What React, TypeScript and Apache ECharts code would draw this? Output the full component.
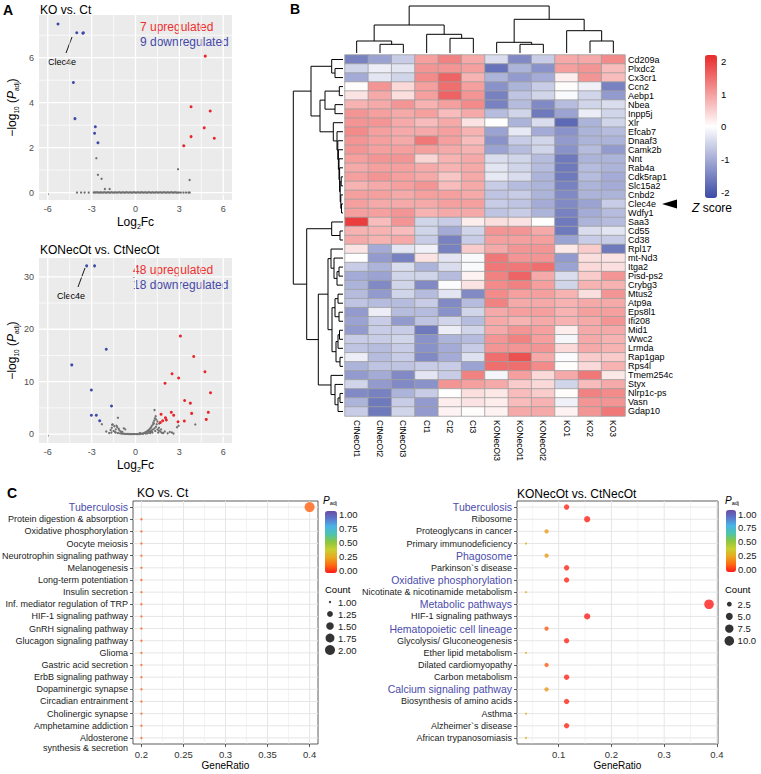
import React, { useEffect, useRef } from 'react';
import * as echarts from 'echarts';

const FONT = '"Liberation Sans", Arial, Helvetica, sans-serif';

// ---------------- Panel A : volcano plots ----------------
const volcXTicks = [-6, -3, 0, 3, 6];
const volcXMinor = [-4.5, -1.5, 1.5, 4.5];
const koYTicks = [0, 2, 4, 6];
const koYMinor = [1, 3, 5, 7];
const necYTicks = [0, 10, 20, 30];
const necYMinor = [5, 15, 25];

const koDown = [[-5.3, 7.5], [-4.02, 7.11], [-3.57, 7.11], [-3.6, 7.09], [-4.25, 4.9], [-4.14, 3.29], [-2.75, 2.93], [-2.8, 2.64], [-2.57, 2.22]];
const koUp = [[4.77, 6.07], [3.8, 3.82], [5.11, 3.63], [4.7, 2.88], [3.8, 2.49], [5.39, 2.42], [3.3, 2.08]];
const koOther = [
  [-2.68, 1.53], [-2.57, 0.79], [-2.32, 0.61], [-2.09, 0.16], [-1.77, 0.16], [2.91, 1.04], [3.7, 0.56],
  [-4.0, 0], [-3.72, 0], [-3.48, 0], [-3.2, 0], [-2.86, 0], [-2.79, 0.01], [-2.71, 0], [-2.63, 0.02], [-2.55, 0],
  [-2.46, 0], [-2.39, 0.01], [-2.31, 0], [-2.22, 0], [-2.14, 0.02], [-2.05, 0], [-1.97, 0], [-1.88, 0.01],
  [-1.8, 0], [-1.71, 0], [-1.63, 0.02], [-1.54, 0], [-1.46, 0], [-1.37, 0.01], [-1.29, 0], [-1.2, 0],
  [-1.12, 0.02], [-1.03, 0], [-0.95, 0], [-0.86, 0.01], [-0.78, 0], [-0.69, 0], [-0.61, 0.02], [-0.52, 0],
  [-0.44, 0], [-0.35, 0.01], [-0.27, 0], [-0.18, 0], [-0.1, 0.02], [-0.01, 0], [0.07, 0], [0.16, 0.01],
  [0.24, 0], [0.33, 0], [0.41, 0.02], [0.5, 0], [0.58, 0], [0.67, 0.01], [0.75, 0], [0.84, 0], [0.92, 0.02],
  [1.01, 0], [1.09, 0], [1.18, 0.01], [1.26, 0], [1.35, 0], [1.43, 0.02], [1.52, 0], [1.6, 0], [1.69, 0.01],
  [1.77, 0], [1.86, 0], [1.94, 0.02], [2.03, 0], [2.11, 0], [2.2, 0.01], [2.28, 0], [2.37, 0], [2.45, 0.02],
  [2.54, 0], [2.62, 0], [2.71, 0.01], [2.79, 0], [2.88, 0], [2.97, 0], [3.1, 0], [3.28, 0], [3.45, 0], [3.62, 0], [3.71, 0]
];

const necDown = [[-3.34, 32.1], [-2.8, 32.1], [-4.36, 13.2], [-2.0, 16.2], [-3.02, 8.4], [-1.64, 5.35], [-3.02, 3.6], [-2.68, 3.6], [-2.45, 2.55]];
const necUp = [
  [3.07, 18.7], [3.98, 14.8], [2.5, 11.5], [4.75, 11.9], [2.95, 10.7], [2.02, 9.7], [5.13, 7.9], [3.36, 6.4],
  [3.75, 5.9], [1.75, 3.8], [2.45, 4.15], [2.61, 3.6], [3.84, 3.95], [4.98, 4.15], [2.05, 3.1], [2.11, 2.7],
  [1.86, 2.55], [1.7, 2.2], [2.91, 2.35], [3.34, 2.5], [4.84, 2.8]
];
const necOther = [
  [-2.3, 1.9], [-1.6, 1.8], [-1.55, 1.85], [-1.45, 1.5], [-1.62, 1.2], [-1.35, 0.9], [-1.25, 1.3], [-1.5, 0.6],
  [-1.7, 0.8], [-1.2, 3.1], [-1.1, 0.7], [-1.0, 0.5], [-0.9, 0.4], [-1.4, 0.4], [-1.65, 0.3], [-1.8, 0.2],
  [-2.0, 0.5], [-1.15, 1.0], [-1.3, 1.6], [-0.8, 1.1], [-0.7, 0.9], [-1.35, 0.3], [-1.2, 0.2], [-1.05, 0.15],
  [-0.95, 0.1], [-0.85, 0.08], [-0.75, 0.05], [-0.65, 0.04], [-0.55, 0.03], [-0.45, 0.02], [-0.35, 0.01],
  [-0.25, 0.01], [-0.15, 0], [-0.05, 0], [0.05, 0], [0.15, 0.01], [0.25, 0.02], [0.35, 0.05], [0.45, 0.1],
  [0.55, 0.15], [0.62, 0.25], [0.7, 0.35], [0.78, 0.5], [0.85, 0.65], [0.92, 0.8], [0.98, 1.0], [1.05, 1.2],
  [1.1, 1.5], [1.18, 1.8], [1.22, 2.2], [1.28, 2.6], [1.33, 3.0], [1.38, 3.4], [1.3, 4.6], [0.9, 0.3], [1.0, 0.5],
  [1.1, 0.7], [1.2, 0.9], [1.3, 1.1], [1.4, 1.4], [1.45, 1.9], [1.5, 2.4], [1.0, 0.2], [0.8, 0.15], [0.7, 0.1],
  [1.15, 0.3], [1.35, 0.6], [1.5, 0.9], [1.6, 1.2], [1.55, 0.3], [1.7, 0.5], [1.8, 0.25], [1.9, 0.2], [2.0, 0.5],
  [2.2, 0.15], [2.35, 0.4], [2.84, 1.3], [4.09, 1.85], [2.6, 0.1], [0.5, 0.05], [0.3, 0.2], [1.25, 2.0],
  [1.42, 2.8], [1.12, 0.45], [0.95, 0.55], [1.6, 0.7], [1.75, 0.9], [1.62, 2.0], [2.95, 1.6], [2.5, 0.3]
];

// ---------------- Panel B : heatmap ----------------
const heatCols = ['CtNecOt1', 'CtNecOt2', 'CtNecOt3', 'Ct1', 'Ct2', 'Ct3', 'KONecOt3', 'KONecOt1', 'KONecOt2', 'KO1', 'KO2', 'KO3'];
const heatRows = ['Cd209a', 'Plxdc2', 'Cx3cr1', 'Ccn2', 'Aebp1', 'Nbea', 'Inpp5j', 'Xlr', 'Efcab7', 'Dnaaf3', 'Camk2b', 'Nnt',
  'Rab4a', 'Cdk5rap1', 'Slc15a2', 'Cnbd2', 'Clec4e', 'Wdfy1', 'Saa3', 'Cd55', 'Cd38', 'Rpl17', 'mt-Nd3', 'Itga2',
  'Pisd-ps2', 'Crybg3', 'Mtus2', 'Atp9a', 'Eps8l1', 'Ifi208', 'Mid1', 'Wwc2', 'Lrmda', 'Rap1gap', 'Rps4l', 'Tmem254c',
  'Styx', 'Nlrp1c-ps', 'Vasn', 'Gdap10'];
const zScores = [
  [-1.5, -1.1, -0.6, 1.0, 1.3, 0.9, -0.4, -1.4, -0.6, 0.9, 0.9, 1.2],
  [-0.5, -0.2, -0.3, 1.1, 1.1, 1.0, -1.7, -0.9, -1.3, 1.0, 1.1, 0.7],
  [-1.0, -0.3, -0.5, 1.2, 1.6, 0.8, -0.9, -1.2, -1.0, 0.2, 1.1, 0.7],
  [0.05, 1.1, 0.4, 1.0, 1.5, 1.0, -1.3, -0.9, -0.6, 0.05, -0.15, -1.5],
  [0.3, 0.9, 0.35, 1.0, 1.6, 1.1, -1.5, -0.7, -0.5, -0.05, -0.5, -1.2],
  [0.8, 0.9, 1.1, 0.8, 1.0, 1.2, -1.5, -0.8, -1.4, -0.8, -0.5, -0.4],
  [1.1, 1.0, 0.9, 1.0, 0.7, 0.9, -0.8, -0.5, -1.6, -1.1, -0.2, -0.5],
  [1.1, 1.1, 0.9, 0.7, 0.9, 0.3, 0.03, -0.9, -0.4, -1.8, -0.9, -0.5],
  [1.2, 1.0, 0.9, 0.9, 1.0, 0.8, -1.1, -0.25, -1.0, -1.3, -0.9, -0.8],
  [1.1, 1.0, 0.9, 1.4, 1.0, 0.7, -1.3, -0.6, -0.5, -1.2, -0.9, -0.9],
  [1.1, 1.0, 1.0, 1.0, 0.9, 0.8, -1.1, -0.8, -0.5, -1.3, -0.8, -1.2],
  [1.0, 1.1, 1.1, 0.45, 0.8, 0.9, -0.4, -0.5, -0.8, -1.6, -0.9, -0.9],
  [0.9, 1.0, 1.0, 0.9, 0.8, 0.9, -0.3, -0.5, -0.8, -1.6, -0.8, -0.9],
  [1.0, 1.1, 1.0, 0.9, 0.6, 0.9, -0.25, -0.4, -0.9, -1.6, -0.8, -1.0],
  [0.8, 0.9, 1.0, 1.1, 0.7, 0.9, -0.6, -0.8, -0.9, -1.5, -0.9, -1.0],
  [1.0, 1.0, 0.9, 1.0, 1.0, 0.9, -0.7, -0.6, -0.9, -1.4, -0.9, -0.9],
  [1.0, 0.9, 0.9, 0.9, 1.0, 1.0, -0.6, -0.7, -1.0, -1.4, -1.1, -0.6],
  [1.0, 1.0, 1.1, 0.8, 0.9, 0.9, -0.7, -0.6, -0.9, -1.5, -1.0, -0.8],
  [2.0, 0.7, 1.1, -0.5, -0.6, 0.2, 0.35, 0.3, 0.03, -1.6, -0.9, -0.8],
  [0.8, 0.8, 0.7, -0.5, -1.0, -0.5, 1.1, 1.1, 0.9, -1.6, -0.4, -0.3],
  [0.9, 0.8, 0.9, -0.6, -1.5, -0.6, 1.0, 1.0, 1.0, -1.1, -0.6, -0.6],
  [0.3, -1.0, -0.3, -0.15, -1.5, 0.55, 0.9, 1.1, 1.1, 0.25, 0.55, -1.6],
  [0.03, -1.2, -1.5, 0.3, -0.3, -0.05, 1.4, 1.1, 1.1, -1.2, 0.35, 0.3],
  [-0.6, -0.9, -0.4, -0.9, -0.4, -0.05, 1.4, 1.4, 1.5, -1.1, 0.4, 0.35],
  [-1.0, -1.1, -0.5, -0.5, -0.8, 0.15, 1.3, 1.6, 0.9, -0.4, 0.55, 1.1],
  [-0.9, -1.4, -0.5, -1.4, -0.02, 0.3, 1.2, 1.3, 1.0, -0.5, 0.8, 0.8],
  [-0.8, -1.2, -0.5, -0.8, -0.3, -1.4, 1.2, 1.0, 1.0, 0.8, 0.35, 1.1],
  [-0.7, -0.8, -0.8, -0.6, -1.4, -0.8, 1.3, 0.9, 0.9, 0.8, 0.9, 0.9],
  [-1.2, -0.2, -0.8, -0.8, -1.3, -0.5, 0.9, 1.0, 1.0, 0.8, 1.0, 1.0],
  [-1.1, -0.6, -1.2, -0.7, -0.5, -0.8, 0.9, 0.8, 0.9, 0.8, 0.9, 1.1],
  [-1.2, -0.6, -0.6, -1.6, -0.2, -0.5, 0.9, 1.1, 1.0, 0.2, 0.9, 0.9],
  [-0.6, -0.6, -0.5, -1.3, -0.9, -0.8, 1.1, 1.3, 1.0, -0.1, 0.9, 0.8],
  [-0.7, -0.8, -0.6, -1.3, -1.0, -0.6, 1.1, 1.1, 1.1, 0.4, 0.9, 0.8],
  [-0.2, -0.8, -0.6, -1.4, -1.0, -0.35, 1.5, 1.8, 0.9, -0.03, 0.55, 0.55],
  [-0.9, -0.7, -0.7, -0.6, -0.6, -1.1, 1.5, 1.5, 1.2, 0.05, 0.4, 0.8],
  [-1.2, -1.0, -1.4, -0.3, -0.6, 1.3, -0.1, 1.0, 0.4, 0.9, 1.4, 0.25],
  [-0.5, -1.2, -1.4, -1.3, 1.1, 1.0, 0.9, 0.55, 0.4, -0.5, 0.7, 0.9],
  [-1.4, -1.5, -0.9, -0.6, 0.03, 0.35, 0.25, 0.7, 0.55, 0.05, 1.3, 1.2],
  [-0.9, -1.6, -0.6, -1.2, 0.2, 0.3, 0.2, 0.7, 0.8, -0.15, 1.1, 1.1],
  [-0.6, -1.6, -0.5, -1.2, 0.15, 0.05, 0.15, 0.9, 0.9, 0.15, 1.1, 1.4]
];
const zTicks = [-2, -1, 0, 1, 2];
// hclust-like merges: [childA, childB, height]; leaves are 0..n-1, merge k gets id n+k
const colMerges = [
  [1, 2, 8.7], [7, 8, 8.7], [0, 12, 12], [10, 11, 12], [6, 13, 10.7], [4, 5, 14.7],
  [3, 17, 18.7], [9, 15, 22.3], [14, 18, 28], [16, 19, 33.7], [20, 21, 47]
];
const rowMerges = [
  [1, 2, 8], [0, 40, 11.3], [3, 4, 3.7], [5, 6, 8], [42, 43, 18], [16, 17, 1.5], [15, 45, 2.2], [13, 14, 1.8],
  [47, 46, 2.8], [12, 48, 3.4], [11, 49, 4], [10, 50, 4.6], [9, 51, 5.2], [8, 52, 6], [7, 53, 9.7], [44, 54, 23],
  [41, 55, 32], [19, 20, 3], [18, 57, 11.3], [23, 24, 4], [59, 25, 6], [22, 60, 9], [21, 61, 12], [26, 27, 5],
  [28, 29, 4], [63, 64, 8], [30, 31, 3.5], [66, 32, 5], [33, 34, 3], [67, 68, 7], [65, 69, 11], [62, 70, 15],
  [37, 38, 3], [72, 39, 5], [36, 73, 8], [35, 74, 12], [71, 75, 24.7], [58, 76, 36.3], [56, 77, 49.7]
];

// ---------------- Panel C : KEGG dot plots ----------------
const pathL = ['Tuberculosis', 'Protein digestion & absorption', 'Oxidative phosphorylation', 'Oocyte meiosis',
  'Neurotrophin signaling pathway', 'Melanogenesis', 'Long-term potentiation', 'Insulin secretion',
  'Inf. mediator regulation of TRP', 'HIF-1 signaling pathway', 'GnRH signaling pathway', 'Glucagon signaling pathway',
  'Glioma', 'Gastric acid secretion', 'ErbB signaling pathway', 'Dopaminergic synapse', 'Circadian entrainment',
  'Cholinergic synapse', 'Amphetamine addiction', 'Aldosterone\nsynthesis & secretion'];
const ratioL = [0.4, 0.2, 0.2, 0.2, 0.2, 0.2, 0.2, 0.2, 0.2, 0.2, 0.2, 0.2, 0.2, 0.2, 0.2, 0.2, 0.2, 0.2, 0.2, 0.2];
const countL = [2, 1, 1, 1, 1, 1, 1, 1, 1, 1, 1, 1, 1, 1, 1, 1, 1, 1, 1, 1];
const padjL = [0.11, 0.11, 0.11, 0.11, 0.11, 0.11, 0.11, 0.11, 0.11, 0.11, 0.11, 0.11, 0.11, 0.11, 0.11, 0.11, 0.11, 0.11, 0.11, 0.11];
const highlightL = ['Tuberculosis'];

const pathR = ['Tuberculosis', 'Ribosome', 'Proteoglycans in cancer', 'Primary immunodeficiency', 'Phagosome',
  'Parkinson`s disease', 'Oxidative phosphorylation', 'Nicotinate & nicotinamide metabolism', 'Metabolic pathways',
  'HIF-1 signaling pathways', 'Hematopoietic cell lineage', 'Glycolysis/ Gluconeogenesis', 'Ether lipid metabolism',
  'Dilated cardiomyopathy', 'Carbon metabolism', 'Calcium signaling pathway', 'Biosynthesis of amino acids',
  'Asthma', 'Alzheimer`s disease', 'African trypanosomiasis'];
const ratioR = [0.115, 0.154, 0.077, 0.038, 0.077, 0.115, 0.115, 0.038, 0.385, 0.154, 0.077, 0.115, 0.038, 0.077, 0.115, 0.077, 0.115, 0.038, 0.115, 0.038];
const countR = [3, 4, 2, 1, 2, 3, 3, 1, 10, 4, 2, 3, 1, 2, 3, 2, 3, 1, 3, 1];
const padjR = [0.02, 0.01, 0.22, 0.28, 0.22, 0.02, 0.02, 0.28, 0.0, 0.01, 0.1, 0.02, 0.28, 0.1, 0.02, 0.22, 0.02, 0.28, 0.02, 0.28];
const highlightR = ['Tuberculosis', 'Phagosome', 'Oxidative phosphorylation', 'Metabolic pathways', 'Hematopoietic cell lineage', 'Calcium signaling pathway'];

const ratioTicksL = [0.2, 0.25, 0.3, 0.35, 0.4];
const ratioMinorL = [0.225, 0.275, 0.325, 0.375];
const ratioTicksR = [0.1, 0.2, 0.3, 0.4];
const ratioMinorR = [0.05, 0.15, 0.25, 0.35];
const countLegendL = [1, 1.25, 1.5, 1.75, 2];
const countLegendR = [2.5, 5, 7.5, 10];

const RED = '#E8262A';
const BLUE = '#3C4BA6';
const LABEL_BLUE = '#4B4BAA';
const rainbow = ['#FF1A1A', '#FF6A10', '#E8A820', '#C8D030', '#8CC63F', '#4CC4B0', '#4AB4E6', '#5A78CC', '#6A4AA2'];

function dendroSegments(n, merges) {
  const pos = [];
  const h = [];
  for (let i = 0; i < n; i++) { pos.push(i); h.push(0); }
  const segs = [];
  merges.forEach(([a, b, ht]) => {
    segs.push([[pos[a], h[a]], [pos[a], ht], [pos[b], ht], [pos[b], h[b]]]);
    pos.push((pos[a] + pos[b]) / 2);
    h.push(ht);
  });
  return segs;
}

function sizeFn(c, cmin, cmax, k) {
  return Math.max(2.3, k * (1 + 5 * Math.sqrt((c - cmin) / (cmax - cmin))));
}

function txt(x, y, text, size, color = '#000', extra = {}) {
  return {
    type: 'text', x, y, silent: true,
    style: {
      text, fill: color, font: `${size}px ${FONT}`,
      textAlign: 'left', align: 'left', textVerticalAlign: 'middle', verticalAlign: 'middle', ...extra
    }
  };
}

const subRich = (big, small) => ({
  a: { fontSize: big, fontFamily: FONT, color: '#000', lineHeight: big + 4 },
  i: { fontSize: big, fontFamily: FONT, color: '#000', fontStyle: 'italic', lineHeight: big + 4 },
  s: { fontSize: small, fontFamily: FONT, color: '#000', verticalAlign: 'bottom', lineHeight: small, padding: [big - 3, 0, 0, 0] }
});

// gridlines drawn through the axes' own scales with a custom series
// item: [xValue, yValue, orientation (0 vertical, 1 horizontal), lineWidth]
function gridLines(idx, xLines, yLines, anchorX, anchorY, color) {
  const data = [
    ...xLines.map(([v, w]) => [v, anchorY, 0, w]),
    ...yLines.map(([v, w]) => [anchorX, v, 1, w])
  ];
  return {
    type: 'custom', xAxisIndex: idx, yAxisIndex: idx, silent: true, z: 1, data,
    encode: { x: 0, y: 1 },
    renderItem: (params, api) => {
      const cs = params.coordSys;
      const p = api.coord([api.value(0), api.value(1)]);
      const w = api.value(3);
      const shape = api.value(2) === 0
        ? { x1: p[0], y1: cs.y, x2: p[0], y2: cs.y + cs.height }
        : { x1: cs.x, y1: p[1], x2: cs.x + cs.width, y2: p[1] };
      return { type: 'line', shape, style: { stroke: color, lineWidth: w } };
    }
  };
}

function buildOption() {
  const G = (left, top, width, height, extra = {}) => ({ left, top, width, height, containLabel: false, outerBoundsMode: 'none', ...extra });
  const grids = [
    G(39, 15, 193, 185, { show: true, backgroundColor: '#EBEBEB', borderWidth: 0 }),
    G(39, 258, 193, 185, { show: true, backgroundColor: '#EBEBEB', borderWidth: 0 }),
    G(345, 55, 280, 361),
    G(345, 4, 280, 49),
    G(291, 55, 52, 361),
    G(705, 55, 12, 143),
    G(133, 501, 185, 243, { show: true, backgroundColor: '#fff', borderColor: '#333', borderWidth: 0.8 }),
    G(517, 501, 201, 243, { show: true, backgroundColor: '#fff', borderColor: '#333', borderWidth: 0.8 }),
    G(325, 514, 12, 56),
    G(324, 596, 12, 60),
    G(726, 514, 10, 55),
    G(723, 598, 12.6, 49)
  ];
  const hidden = (gi, extra = {}) => ({ type: 'value', gridIndex: gi, show: false, splitLine: { show: false }, ...extra });
  const tickLab = (vals, size, color, margin, fmt) => ({
    customValues: vals, fontSize: size, color, margin, fontFamily: FONT, formatter: fmt
  });
  const volcX = (gi) => ({
    type: 'value', gridIndex: gi, min: -6.6, max: 6.6,
    axisLine: { show: false },
    axisTick: { show: true, customValues: volcXTicks, length: 2.5, lineStyle: { color: '#333', width: 0.8 } },
    axisLabel: tickLab(volcXTicks, 9, '#4D4D4D', 4),
    splitLine: { show: false },
    name: '{a|Log}{s|2}{a|Fc}', nameLocation: 'middle', nameGap: 14,
    nameTextStyle: { rich: subRich(12, 7) }
  });
  const volcY = (gi, min, max, ticks) => ({
    type: 'value', gridIndex: gi, min, max,
    axisLine: { show: false },
    axisTick: { show: true, customValues: ticks, length: 2.5, lineStyle: { color: '#333', width: 0.8 } },
    axisLabel: tickLab(ticks, 9, '#4D4D4D', 5),
    splitLine: { show: false },
    name: '{a|\u2212log}{s|10}{a| (}{i|P}{s|adj}{a|)}', nameLocation: 'middle', nameGap: 19, nameRotate: 90,
    nameTextStyle: { rich: subRich(12, 6.5) }
  });
  const catLabel = (highlight) => ({
    interval: 0, margin: 5, fontFamily: FONT,
    formatter: (v) => {
      if (highlight.includes(v)) return `{b|${v}}`;
      if (v.includes('\n')) {
        const parts = v.split('\n');
        return `{e| }\n{n|${parts[0]}}\n{n|${parts[1]}}`;
      }
      return `{n|${v}}`;
    },
    rich: {
      n: { fontSize: 9, color: '#1A1A1A', fontFamily: FONT, lineHeight: 10.5 },
      e: { fontSize: 9, lineHeight: 10.5 },
      b: { fontSize: 10.5, color: LABEL_BLUE, fontFamily: FONT }
    }
  });
  const dotX = (gi, min, max, ticks) => ({
    type: 'value', gridIndex: gi, min, max,
    axisLine: { show: false },
    axisTick: { show: true, customValues: ticks, length: 3, lineStyle: { color: '#333', width: 0.8 } },
    axisLabel: tickLab(ticks, 9.5, '#333', 5),
    splitLine: { show: false },
    name: 'GeneRatio', nameLocation: 'middle', nameGap: 16,
    nameTextStyle: { fontSize: 10, color: '#000', fontFamily: FONT }
  });
  const dotY = (gi, cats, highlight) => ({
    type: 'category', gridIndex: gi, data: cats, inverse: true,
    axisLine: { show: false },
    axisTick: { show: true, alignWithLabel: true, length: 3, lineStyle: { color: '#333', width: 0.8 } },
    axisLabel: catLabel(highlight),
    splitLine: { show: false }
  });

  const xAxis = [
    volcX(0), volcX(1),
    {
      type: 'category', gridIndex: 2, data: heatCols, position: 'bottom',
      axisLine: { show: false }, axisTick: { show: false }, splitLine: { show: false },
      axisLabel: { rotate: -90, fontSize: 8.5, color: '#000', margin: 4, interval: 0, fontFamily: FONT }
    },
    hidden(3, { min: -0.5, max: 11.5 }),
    hidden(4, { min: 0, max: 52, inverse: true }),
    hidden(5, { min: 0, max: 1 }),
    dotX(6, 0.19, 0.41, ratioTicksL),
    dotX(7, 0.021, 0.402, ratioTicksR),
    hidden(8, { min: 0, max: 1 }),
    hidden(9, { min: -1, max: 1 }),
    hidden(10, { min: 0, max: 1 }),
    hidden(11, { min: -1, max: 1 })
  ];
  const legLabel = { fontSize: 9.5, color: '#1A1A1A', margin: 2, fontFamily: FONT };
  const yAxis = [
    volcY(0, -0.33, 7.9, koYTicks),
    volcY(1, -1.7, 33.6, necYTicks),
    {
      type: 'category', gridIndex: 2, data: heatRows, inverse: true, position: 'right',
      axisLine: { show: false }, axisTick: { show: false }, splitLine: { show: false },
      axisLabel: { fontSize: 9, color: '#000', margin: 3, interval: 0, fontFamily: FONT }
    },
    hidden(3, { min: 0, max: 49 }),
    hidden(4, { min: -0.5, max: 39.5, inverse: true }),
    {
      type: 'value', gridIndex: 5, min: -2.17, max: 2.2, position: 'right',
      axisLine: { show: false }, axisTick: { show: false }, splitLine: { show: false },
      axisLabel: { customValues: zTicks, fontSize: 9.5, color: '#000', margin: 4, fontFamily: FONT }
    },
    dotY(6, pathL, highlightL),
    dotY(7, pathR, highlightR),
    {
      type: 'value', gridIndex: 8, min: 0, max: 1, interval: 0.25, position: 'right',
      axisLine: { show: false }, axisTick: { show: false }, splitLine: { show: false },
      axisLabel: { ...legLabel, formatter: (v) => v.toFixed(2) }
    },
    {
      type: 'category', gridIndex: 9, data: countLegendL.map((c) => c.toFixed(2)), inverse: true, position: 'right',
      axisLine: { show: false }, axisTick: { show: false }, splitLine: { show: false },
      axisLabel: { ...legLabel, interval: 0 }
    },
    {
      type: 'value', gridIndex: 10, min: 0, max: 1, interval: 0.25, position: 'right',
      axisLine: { show: false }, axisTick: { show: false }, splitLine: { show: false },
      axisLabel: { ...legLabel, formatter: (v) => v.toFixed(2) }
    },
    {
      type: 'category', gridIndex: 11, data: countLegendR.map((c) => c.toFixed(1)), inverse: true, position: 'right',
      axisLine: { show: false }, axisTick: { show: false }, splitLine: { show: false },
      axisLabel: { ...legLabel, interval: 0 }
    }
  ];

  const pts = (idx, data, color, size) => ({
    type: 'scatter', xAxisIndex: idx, yAxisIndex: idx, data, symbolSize: size, z: 3, silent: true,
    itemStyle: { color, opacity: 1 }
  });

  const colSegs = dendroSegments(heatCols.length, colMerges);
  const rowSegs = dendroSegments(heatRows.length, rowMerges).map((seg) => seg.map(([p, h]) => [h, p]));
  const dendro = (idx, segs) => ({
    type: 'lines', coordinateSystem: 'cartesian2d', xAxisIndex: idx, yAxisIndex: idx, polyline: true, silent: true, z: 2,
    lineStyle: { color: '#000', width: 1, opacity: 1, curveness: 0 },
    data: segs.map((c) => ({ coords: c }))
  });

  const heatData = [];
  zScores.forEach((row, r) => row.forEach((v, c) => heatData.push([c, r, v])));

  const withW = (arr, w) => arr.map((v) => [v, w]);

  const series = [
    gridLines(0, [...withW(volcXTicks, 1.3), ...withW(volcXMinor, 0.7)], [...withW(koYTicks, 1.3), ...withW(koYMinor, 0.7)], 0, 0, '#FFFFFF'),
    pts(0, koOther, '#707070', 2.3),
    pts(0, koDown, BLUE, 3),
    pts(0, koUp, RED, 3),
    gridLines(1, [...withW(volcXTicks, 1.3), ...withW(volcXMinor, 0.7)], [...withW(necYTicks, 1.3), ...withW(necYMinor, 0.7)], 0, 0, '#FFFFFF'),
    pts(1, necOther, '#707070', 2.3),
    pts(1, necDown, BLUE, 3),
    pts(1, necUp, RED, 3),
    {
      type: 'heatmap', xAxisIndex: 2, yAxisIndex: 2, data: heatData, silent: true,
      itemStyle: { borderColor: '#A0A0A0', borderWidth: 0.8 }, emphasis: { disabled: true }
    },
    dendro(3, colSegs),
    dendro(4, rowSegs),
    gridLines(6, [...withW(ratioTicksL, 1), ...withW(ratioMinorL, 0.5)], withW(pathL.map((_, i) => i), 1), 0.3, 0, '#E6E6E6'),
    {
      type: 'scatter', xAxisIndex: 6, yAxisIndex: 6, z: 3, silent: true,
      data: pathL.map((p, i) => [ratioL[i], i, padjL[i], countL[i]]),
      symbolSize: (v) => sizeFn(v[3], 1, 2, 1.67)
    },
    gridLines(7, [...withW(ratioTicksR, 1), ...withW(ratioMinorR, 0.5)], withW(pathR.map((_, i) => i), 1), 0.2, 0, '#E6E6E6'),
    {
      type: 'scatter', xAxisIndex: 7, yAxisIndex: 7, z: 3, silent: true,
      data: pathR.map((p, i) => [ratioR[i], i, padjR[i], countR[i]]),
      symbolSize: (v) => sizeFn(v[3], 1, 10, 1.6)
    },
    {
      type: 'scatter', xAxisIndex: 9, yAxisIndex: 9, silent: true, itemStyle: { color: '#000' },
      data: countLegendL.map((c, i) => [0, i, c]),
      symbolSize: (v) => sizeFn(v[2], 1, 2, 1.67)
    },
    {
      type: 'scatter', xAxisIndex: 11, yAxisIndex: 11, silent: true, itemStyle: { color: '#000' },
      data: countLegendR.map((c, i) => [0, i, c]),
      symbolSize: (v) => sizeFn(v[2], 1, 10, 1.6)
    }
  ];

  const visualMap = [
    {
      type: 'continuous', seriesIndex: 8, dimension: 2, min: -2.17, max: 2.2, calculable: false,
      left: 705, top: 55, itemWidth: 12, itemHeight: 143, padding: 0, text: null, show: true,
      inRange: { color: [BLUE, '#FFFFFF', '#E82A2A'] }
    },
    {
      type: 'continuous', seriesIndex: 12, dimension: 2, min: 0, max: 1, calculable: false,
      left: 325, top: 511, itemWidth: 12, itemHeight: 62, padding: 0, text: null, show: true,
      inRange: { color: rainbow }
    },
    {
      type: 'continuous', seriesIndex: 14, dimension: 2, min: 0, max: 1, calculable: false,
      left: 726, top: 510, itemWidth: 10, itemHeight: 62, padding: 0, text: null, show: true,
      inRange: { color: rainbow }
    }
  ];

  const padjRich = {
    p: { fontSize: 10, fontStyle: 'italic', fill: '#000', color: '#000', fontFamily: FONT },
    s: { fontSize: 5.5, fill: '#000', color: '#000', fontFamily: FONT, verticalAlign: 'bottom', padding: [6, 0, 0, 0] }
  };
  const graphic = [
    txt(3, 10, 'A', 14, '#000', { font: `bold 14px ${FONT}` }),
    txt(290, 9, 'B', 14, '#000', { font: `bold 14px ${FONT}` }),
    txt(7, 493, 'C', 14, '#000', { font: `bold 14px ${FONT}` }),
    txt(40, 9.5, 'KO vs. Ct', 12),
    txt(40, 250, 'KONecOt vs. CtNecOt', 12),
    txt(140, 27, '7 upregulated', 12, '#EE2E2E'),
    txt(140, 42, '9 downregulated', 12, '#4648A8'),
    txt(133, 270, '48 upregulated', 12, '#EE2E2E'),
    txt(133, 285, '18 downregulated', 12, '#4648A8'),
    txt(48, 62, 'Clec4e', 9),
    { type: 'line', silent: true, shape: { x1: 72, y1: 37, x2: 66, y2: 53 }, style: { stroke: '#000', lineWidth: 0.9 } },
    txt(57, 296, 'Clec4e', 9),
    { type: 'line', silent: true, shape: { x1: 85, y1: 268, x2: 78, y2: 287 }, style: { stroke: '#000', lineWidth: 0.9 } },
    { type: 'polygon', silent: true, shape: { points: [[662, 204], [677, 199.5], [677, 208.5]] }, style: { fill: '#000' } },
    {
      type: 'text', x: 692, y: 208, silent: true,
      style: {
        text: '{z|Z}{r| score}', textVerticalAlign: 'middle', verticalAlign: 'middle',
        rich: {
          z: { fontSize: 12, fontStyle: 'italic', fill: '#000', color: '#000', fontFamily: FONT },
          r: { fontSize: 12, fill: '#000', color: '#000', fontFamily: FONT }
        }
      }
    },
    txt(137, 493, 'KO vs. Ct', 12),
    txt(517, 494, 'KONecOt vs. CtNecOt', 12),
    { type: 'text', x: 323, y: 500, silent: true, style: { text: '{p|P}{s|adj}', textVerticalAlign: 'middle', verticalAlign: 'middle', rich: padjRich } },
    { type: 'text', x: 725, y: 500, silent: true, style: { text: '{p|P}{s|adj}', textVerticalAlign: 'middle', verticalAlign: 'middle', rich: padjRich } },
    txt(325, 589, 'Count', 9.5),
    txt(725, 589, 'Count', 9.5)
  ];

  return {
    animation: false,
    backgroundColor: '#fff',
    textStyle: { fontFamily: FONT },
    grid: grids,
    xAxis,
    yAxis,
    visualMap,
    series,
    graphic
  };
}

export default function App() {
  const ref = useRef(null);
  useEffect(() => {
    const chart = echarts.init(ref.current, null, { renderer: 'svg' });
    chart.setOption(buildOption());
    return () => chart.dispose();
  }, []);
  return <div ref={ref} style={{ position: 'absolute', left: 0, top: 0, width: 761, height: 774 }} />;
}
